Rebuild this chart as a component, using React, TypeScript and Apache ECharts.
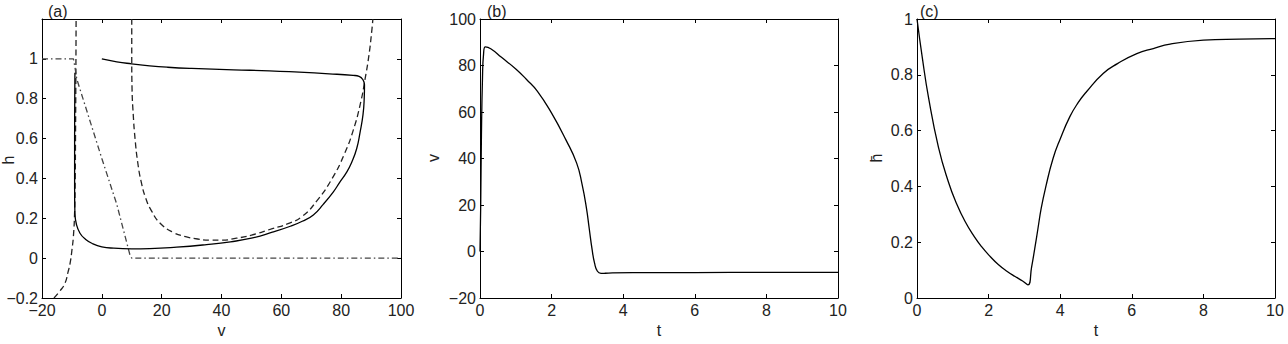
import React, { useEffect, useRef } from "react";
import * as echarts from "echarts";

// Panel (a): phase plane (v, h)
const A_TRAJECTORY: [number, number][] = [
  [0, 1.0], [5, 0.985], [10, 0.975], [16, 0.965], [22, 0.958], [30, 0.952], [44, 0.945],
  [56, 0.94], [66, 0.933], [76, 0.925], [84, 0.917], [86, 0.912], [87.3, 0.895], [87.8, 0.87],
  [87.7, 0.8], [87.3, 0.72], [86.3, 0.63], [85.2, 0.55], [83.5, 0.48], [81.8, 0.43], [79.5, 0.38],
  [77.4, 0.333], [74, 0.27], [70.7, 0.217], [67, 0.185], [63, 0.16], [57, 0.13], [50, 0.1],
  [43, 0.082], [35, 0.068], [25, 0.055], [16, 0.048], [10, 0.047], [4, 0.05], [0, 0.057],
  [-3, 0.072], [-5.5, 0.095], [-7.3, 0.125], [-8.5, 0.17], [-9, 0.225], [-9.1, 0.35],
  [-9.1, 0.6], [-9.05, 0.8], [-9, 0.93],
];
const A_LEFT_NULLCLINE: [number, number][] = [
  [-16, -0.2], [-14, -0.165], [-12.3, -0.125], [-11.3, -0.07], [-10.6, -0.025], [-10, 0.04],
  [-9.5, 0.11], [-9.1, 0.23], [-8.9, 0.4], [-8.8, 0.6], [-8.7, 0.85], [-8.6, 1.2],
];
const A_RIGHT_NULLCLINE: [number, number][] = [
  [10, 1.2], [10, 1.0], [10.1, 0.85], [10.5, 0.72], [11.1, 0.6], [12, 0.48], [13.2, 0.38],
  [14.7, 0.3], [16.5, 0.24], [19.5, 0.175], [24, 0.128], [28, 0.108], [32, 0.096], [36, 0.09],
  [40, 0.09], [45, 0.1], [50, 0.115], [57, 0.148], [62, 0.172], [67, 0.21], [72, 0.29],
  [77, 0.4], [81, 0.52], [84, 0.64], [86.5, 0.78], [88, 0.9], [89.3, 1.02], [90.3, 1.15], [90.6, 1.2],
];
const A_HINF: [number, number][] = [
  [-20, 1], [-9.5, 1], [-9, 0.96], [-8.4, 0.9], [0, 0.5], [5, 0.27], [9.5, 0.01], [10, 0], [100, 0],
];

// Panel (b): v(t)
const B_VOLTAGE: [number, number][] = [
  [0, 0], [0.02, 20], [0.04, 50], [0.07, 75], [0.1, 85], [0.15, 88], [0.3, 87.2], [0.6, 83.5],
  [1.0, 78.5], [1.3, 74], [1.6, 69], [2.0, 59.5], [2.4, 48], [2.7, 38], [2.85, 29], [2.97, 19],
  [3.05, 10], [3.13, 1], [3.2, -5], [3.28, -8.5], [3.38, -9.4], [3.5, -9.35], [3.7, -9.2],
  [4.5, -9.1], [6, -9.05], [8, -9], [10, -9],
];

// Panel (c): h(t)
const C_GATE: [number, number][] = [
  [0, 1], [0.15, 0.86], [0.32, 0.72], [0.6, 0.54], [0.88, 0.415], [1.1, 0.34], [1.34, 0.275],
  [1.6, 0.22], [1.81, 0.183], [2.05, 0.148], [2.27, 0.12], [2.5, 0.097], [2.74, 0.077],
  [2.95, 0.061], [3.1, 0.047], [3.2, 0.11], [3.29, 0.178], [3.38, 0.25], [3.47, 0.322],
  [3.6, 0.4], [3.8, 0.5], [4.0, 0.57], [4.27, 0.65], [4.5, 0.7], [4.74, 0.74], [5.2, 0.805],
  [5.6, 0.84], [6.14, 0.876], [6.6, 0.894], [7.07, 0.91], [8.0, 0.924], [9, 0.928], [10, 0.93],
];

const PANEL_LABELS = ["(a)", "(b)", "(c)"];
const X_NAMES = ["v", "t", "t"];
const Y_NAMES = ["h", "v", "h\u0304"];

const FONT = '"Liberation Sans", Arial, Helvetica, sans-serif';
const TEXT = "#222";
const FS = 16;

function fmt(v: number): string {
  const r = Math.round(v * 1000) / 1000;
  return String(r).replace("-", "\u2212");
}

export default function App() {
  const ref = useRef<HTMLDivElement>(null);
  useEffect(() => {
    const chart = echarts.init(ref.current!, null, { renderer: "svg" });

    const grids = [
      { left: 42, top: 19, width: 359, height: 279 },
      { left: 480, top: 19, width: 358, height: 279 },
      { left: 917, top: 19, width: 358, height: 279 },
    ];
    const xRanges = [
      { min: -20, max: 100, interval: 20 },
      { min: 0, max: 10, interval: 2 },
      { min: 0, max: 10, interval: 2 },
    ];
    const yRanges = [
      { min: -0.2, max: 1.2, interval: 0.2 },
      { min: -20, max: 100, interval: 20 },
      { min: 0, max: 1, interval: 0.2 },
    ];
    const yNamePos = [
      { x: 8, y: 160 },
      { x: 433, y: 158 },
      { x: 876, y: 158 },
    ];
    const labelPos = [48, 487, 920];

    const axisLine = { show: true, onZero: false, lineStyle: { color: "#000", width: 1 } };
    const axisTick = { show: true, inside: true, length: 4, lineStyle: { color: "#000", width: 1 } };
    const nameStyle = { fontSize: FS, color: TEXT, fontFamily: FONT };

    const xAxis: any[] = [];
    const yAxis: any[] = [];
    for (let i = 0; i < 3; i++) {
      xAxis.push({
        type: "value", gridIndex: i, position: "bottom", ...xRanges[i],
        axisLine, axisTick, splitLine: { show: false },
        axisLabel: { margin: 4, fontSize: FS, color: TEXT, fontFamily: FONT, formatter: fmt },
        name: X_NAMES[i], nameLocation: "middle", nameGap: 20, nameTextStyle: nameStyle,
      });
      xAxis.push({
        type: "value", gridIndex: i, position: "top", ...xRanges[i],
        axisLine, axisTick, splitLine: { show: false }, axisLabel: { show: false },
      });
      const yMax = yRanges[i].max;
      yAxis.push({
        type: "value", gridIndex: i, position: "left", ...yRanges[i],
        axisLine, axisTick, splitLine: { show: false },
        axisLabel: {
          margin: 4, fontSize: FS, color: TEXT, fontFamily: FONT,
          formatter: (v: number) => (i === 0 && Math.abs(v - yMax) < 1e-6 ? "" : fmt(v)),
        },
      });
      yAxis.push({
        type: "value", gridIndex: i, position: "right", ...yRanges[i],
        axisLine, axisTick, splitLine: { show: false }, axisLabel: { show: false },
      });
    }

    const line = (data: [number, number][], panel: number, type: any, color: string, smooth: any) => ({
      type: "line",
      xAxisIndex: panel * 2,
      yAxisIndex: panel * 2,
      data,
      symbol: "none",
      showSymbol: false,
      smooth,
      clip: true,
      lineStyle: { color, width: 1.3, type },
    });

    const graphic: any[] = [];
    for (let i = 0; i < 3; i++) {
      graphic.push({
        type: "text", left: labelPos[i], top: 3,
        style: { text: PANEL_LABELS[i], font: `${FS}px ${FONT}`, fill: TEXT },
      });
      graphic.push({
        type: "text", x: yNamePos[i].x, y: yNamePos[i].y, rotation: Math.PI / 2,
        style: { text: Y_NAMES[i], font: `${FS}px ${FONT}`, fill: TEXT, align: "center", verticalAlign: "middle" },
      });
    }

    const option: any = {
      animation: false,
      backgroundColor: "#fff",
      grid: grids,
      xAxis,
      yAxis,
      series: [
        line(A_LEFT_NULLCLINE, 0, [6, 3.5], "#222", 0.5),
        line(A_RIGHT_NULLCLINE, 0, [6, 3.5], "#222", 0.5),
        line(A_HINF, 0, [6, 3, 1.5, 3], "#444", false),
        line(A_TRAJECTORY, 0, "solid", "#000", 0.5),
        line(B_VOLTAGE, 1, "solid", "#000", 0.5),
        line(C_GATE, 2, "solid", "#000", 0.5),
      ],
      graphic,
    };
    chart.setOption(option);
    return () => chart.dispose();
  }, []);
  return (
    <div
      ref={ref}
      style={{ position: "absolute", left: 0, top: 0, width: 1288, height: 344, background: "#fff" }}
    />
  );
}
